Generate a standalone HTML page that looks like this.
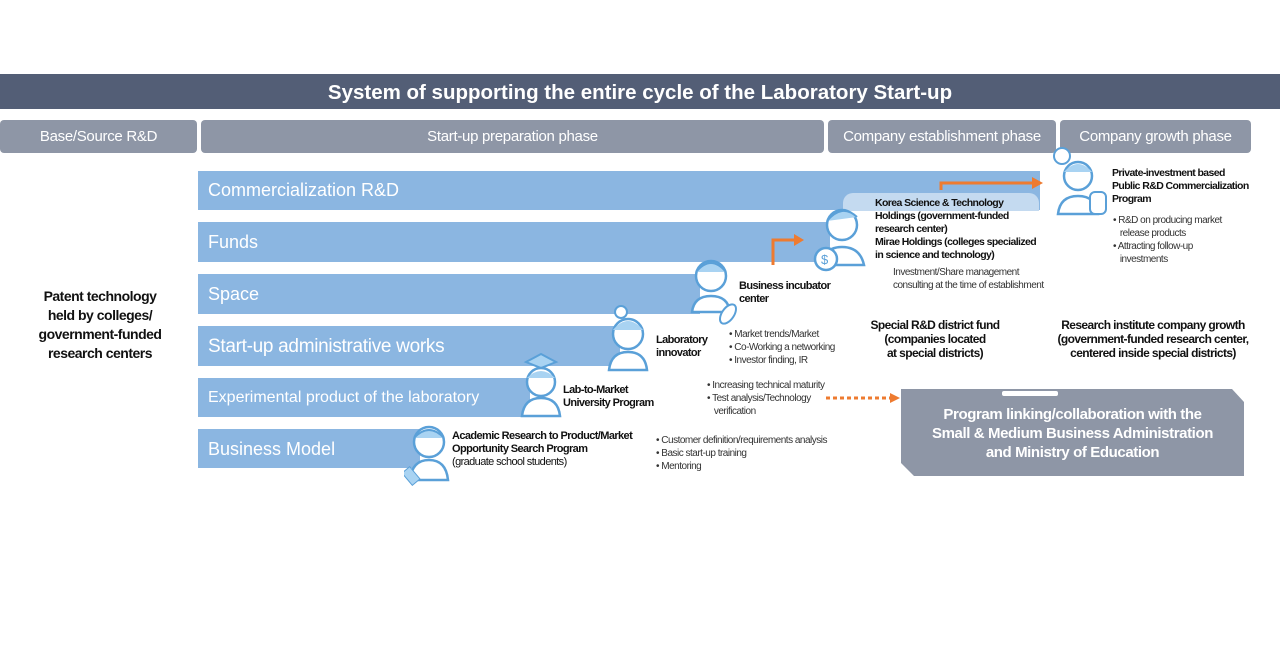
<!DOCTYPE html>
<html><head><meta charset="utf-8"><style>
body{margin:0;width:1280px;height:648px;background:#fff;position:relative;overflow:hidden;font-family:"Liberation Sans",sans-serif;}
div{position:absolute;box-sizing:border-box;white-space:nowrap;}
.hd{background:#8e96a6;color:#fff;font-size:15px;text-align:center;line-height:33px;top:120px;height:33px;border-radius:4px;letter-spacing:-0.3px;}
.bar{background:#8bb6e1;color:#fff;font-size:18px;left:198px;padding-left:10px;}
.t{color:#111;font-size:11px;line-height:13px;letter-spacing:-0.6px;}
.b{font-weight:bold;}
.s{color:#333;font-size:10px;line-height:13px;letter-spacing:-0.5px;}
</style></head><body>
<div style="left:0;top:74px;width:1280px;height:35px;background:#535e76;color:#fff;font-weight:bold;font-size:20.5px;text-align:center;line-height:37px;">System of supporting the entire cycle of the Laboratory Start-up</div>
<div class="hd" style="left:0;width:197px;">Base/Source R&amp;D</div>
<div class="hd" style="left:201px;width:623px;">Start-up preparation phase</div>
<div class="hd" style="left:828px;width:228px;">Company establishment phase</div>
<div class="hd" style="left:1060px;width:191px;">Company growth phase</div>

<div class="bar" style="top:171px;width:842px;height:39px;line-height:39px;">Commercialization R&amp;D</div>
<div style="left:843px;top:193px;width:196px;height:18px;background:#c4daf0;border-radius:10px 10px 0 0;"></div>
<div class="bar" style="top:222px;width:632px;height:40px;line-height:40px;">Funds</div>
<div class="bar" style="top:274px;width:502px;height:40px;line-height:40px;">Space</div>
<div class="bar" style="top:326px;width:422px;height:40px;line-height:42px;font-size:19px;letter-spacing:-0.3px;">Start-up administrative works</div>
<div class="bar" style="top:378px;width:332px;height:39px;line-height:40px;font-size:16px;">Experimental product of the laboratory</div>
<div class="bar" style="top:429px;width:222px;height:39px;line-height:40px;">Business Model</div>

<div class="b" style="left:20px;top:287px;width:160px;text-align:center;font-size:14px;line-height:19px;color:#111;letter-spacing:-0.5px;">Patent technology<br>held by colleges/<br>government-funded<br>research centers</div>

<svg style="position:absolute;left:404px;top:420px" width="50" height="66"><circle cx="25" cy="22" r="15" fill="#fff" stroke="#5aa0d8" stroke-width="2.5"/><path d="M10 18 Q25 2 40 18" fill="#a9d3f2" stroke="#5aa0d8" stroke-width="2"/><path d="M6 60 Q8 40 25 40 Q42 40 44 60Z" fill="#fff" stroke="#5aa0d8" stroke-width="2.5"/><rect x="2" y="48" width="10" height="16" fill="#a9d3f2" stroke="#5aa0d8" transform="rotate(-40 7 56)"/></svg>
<svg style="position:absolute;left:518px;top:348px" width="46" height="70"><path d="M8 14 L23 6 L38 14 L23 20Z" fill="#a9d3f2" stroke="#5aa0d8" stroke-width="2"/><circle cx="23" cy="34" r="14" fill="#fff" stroke="#5aa0d8" stroke-width="2.5"/><path d="M9 30 Q23 16 37 30" fill="#a9d3f2"/><path d="M4 68 Q6 50 23 50 Q40 50 42 68Z" fill="#fff" stroke="#5aa0d8" stroke-width="2.5"/></svg>
<svg style="position:absolute;left:605px;top:302px" width="46" height="70"><circle cx="16" cy="10" r="6" fill="#fff" stroke="#5aa0d8" stroke-width="2"/><circle cx="23" cy="32" r="15" fill="#fff" stroke="#5aa0d8" stroke-width="2.5"/><path d="M8 28 Q23 10 38 28" fill="#a9d3f2"/><path d="M4 68 Q6 50 23 50 Q40 50 42 68Z" fill="#fff" stroke="#5aa0d8" stroke-width="2.5"/></svg>
<svg style="position:absolute;left:686px;top:254px" width="56" height="74"><circle cx="25" cy="22" r="15" fill="#fff" stroke="#5aa0d8" stroke-width="2.5"/><path d="M10 18 Q25 0 40 18" fill="#a9d3f2" stroke="#5aa0d8" stroke-width="2"/><path d="M6 58 Q8 42 25 42 Q42 42 44 58Z" fill="#fff" stroke="#5aa0d8" stroke-width="2.5"/><ellipse cx="42" cy="60" rx="6" ry="11" fill="#fff" stroke="#5aa0d8" stroke-width="2" transform="rotate(35 42 60)"/></svg>
<svg style="position:absolute;left:812px;top:203px" width="56" height="70"><circle cx="30" cy="22" r="15" fill="#fff" stroke="#5aa0d8" stroke-width="2.5"/><path d="M15 18 Q30 0 45 14" fill="#a9d3f2" stroke="#5aa0d8" stroke-width="2"/><path d="M10 62 Q12 44 30 44 Q48 44 52 62Z" fill="#fff" stroke="#5aa0d8" stroke-width="2.5"/><circle cx="14" cy="56" r="11" fill="#fff" stroke="#5aa0d8" stroke-width="2.5"/><text x="9" y="61" font-size="13" fill="#5aa0d8" font-family="Liberation Sans">$</text></svg>
<svg style="position:absolute;left:1050px;top:146px" width="62" height="72"><circle cx="12" cy="10" r="8" fill="#fff" stroke="#5aa0d8" stroke-width="2"/><circle cx="28" cy="30" r="14" fill="#fff" stroke="#5aa0d8" stroke-width="2.5"/><path d="M14 26 Q28 10 42 26" fill="#a9d3f2"/><path d="M8 68 Q10 50 28 50 Q46 50 48 68Z" fill="#fff" stroke="#5aa0d8" stroke-width="2.5"/><rect x="40" y="46" width="16" height="22" rx="5" fill="#fff" stroke="#5aa0d8" stroke-width="2"/></svg>

<svg style="position:absolute;left:0;top:0" width="1280" height="648">
<path d="M773 265 V240 H796" fill="none" stroke="#ee7b30" stroke-width="3"/><path d="M794 234 L804 240 L794 246Z" fill="#ee7b30"/>
<path d="M941 190 V183 H1034" fill="none" stroke="#ee7b30" stroke-width="3"/><path d="M1032 177 L1043 183 L1032 189Z" fill="#ee7b30"/>
<path d="M826 398 H892" stroke="#ee7b30" stroke-width="3" stroke-dasharray="4,3"/><path d="M890 393 L900 398 L890 403Z" fill="#ee7b30"/>
<path d="M901 389 H1232 L1244 402 V476 H914 L901 463Z" fill="#8e96a6"/>
<rect x="1002" y="391" width="56" height="5" rx="2" fill="#fff"/>
</svg>
<div class="b" style="left:905px;top:405px;width:335px;text-align:center;color:#fff;font-size:15px;line-height:19px;letter-spacing:-0.4px;">Program linking/collaboration with the<br>Small &amp; Medium Business Administration<br>and Ministry of Education</div>

<div class="t b" style="left:452px;top:430px;">Academic Research to Product/Market<br>Opportunity Search Program<br><span style="font-weight:normal">(graduate school students)</span></div>
<div class="t b" style="left:563px;top:384px;">Lab-to-Market<br>University Program</div>
<div class="t b" style="left:656px;top:334px;">Laboratory<br>innovator</div>
<div class="t b" style="left:739px;top:280px;">Business incubator<br>center</div>
<div class="s" style="left:656px;top:434px;">• Customer definition/requirements analysis<br>• Basic start-up training<br>• Mentoring</div>
<div class="s" style="left:707px;top:379px;">• Increasing technical maturity<br>• Test analysis/Technology<br>&nbsp;&nbsp;&nbsp;verification</div>
<div class="s" style="left:729px;top:328px;">• Market trends/Market<br>• Co-Working a networking<br>• Investor finding, IR</div>
<div class="t b" style="left:875px;top:197px;font-size:10.5px;">Korea Science &amp; Technology<br>Holdings (government-funded<br>research center)<br>Mirae Holdings (colleges specialized<br>in science and technology)</div>
<div class="s" style="left:893px;top:266px;">Investment/Share management<br>consulting at the time of establishment</div>
<div class="t b" style="left:1112px;top:167px;font-size:10.5px;">Private-investment based<br>Public R&amp;D Commercialization<br>Program</div>
<div class="s" style="left:1113px;top:214px;">• R&amp;D on producing market<br>&nbsp;&nbsp;&nbsp;release products<br>• Attracting follow-up<br>&nbsp;&nbsp;&nbsp;investments</div>
<div class="t b" style="left:860px;top:318px;width:150px;text-align:center;font-size:12px;line-height:14px;">Special R&amp;D district fund<br>(companies located<br>at special districts)</div>
<div class="t b" style="left:1053px;top:318px;width:200px;text-align:center;font-size:12px;line-height:14px;">Research institute company growth<br>(government-funded research center,<br>centered inside special districts)</div>
</body></html>
